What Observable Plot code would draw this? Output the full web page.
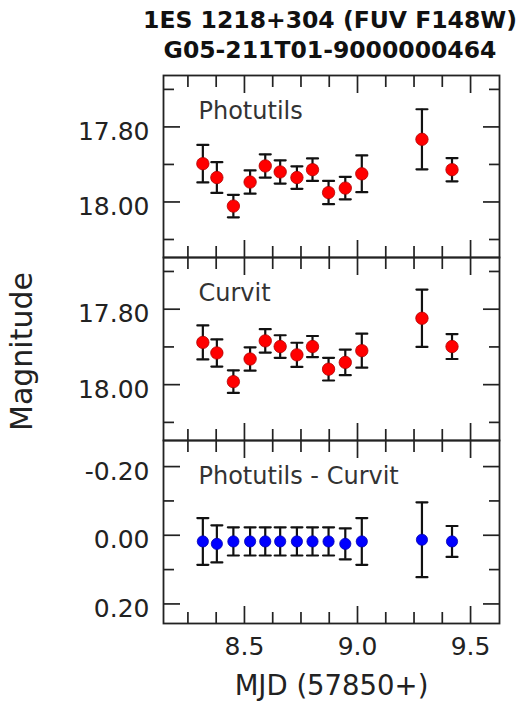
<!DOCTYPE html>
<html><head><meta charset="utf-8">
<script src="https://cdn.jsdelivr.net/npm/d3@7"></script>
<script src="https://cdn.jsdelivr.net/npm/@observablehq/plot@0.6"></script>
<style>
html,body{margin:0;padding:0;background:#fff;overflow:hidden;}
#wrap{position:relative;width:520px;height:702px;font-family:"DejaVu Sans";}
#title{position:absolute;left:80px;top:5px;width:500px;text-align:center;font-family:"DejaVu Sans";font-weight:bold;font-size:23.5px;line-height:30px;color:#111;}
.pane{position:absolute;left:0;}
</style>
</head><body>
<div id="wrap">
  <div id="title">1ES 1218+304 (FUV F148W)<br>G05-211T01-9000000464</div>
</div>
<script>
const mjd = [8.316, 8.378, 8.451, 8.525, 8.592, 8.658, 8.732, 8.801, 8.872, 8.946, 9.019, 9.285, 9.418];
const magPhot = [17.898, 17.935, 18.011, 17.947, 17.904, 17.920, 17.935, 17.914, 17.975, 17.963, 17.925, 17.833, 17.914];
const errPhot = [0.050, 0.041, 0.030, 0.031, 0.031, 0.031, 0.030, 0.030, 0.031, 0.030, 0.049, 0.080, 0.031];
const magCurv = [17.888, 17.916, 17.992, 17.932, 17.884, 17.899, 17.921, 17.899, 17.959, 17.941, 17.910, 17.824, 17.899];
const errCurv = [0.045, 0.036, 0.030, 0.031, 0.031, 0.030, 0.032, 0.028, 0.030, 0.034, 0.045, 0.076, 0.033];
const magDiff = [0.018, 0.025, 0.018, 0.018, 0.018, 0.018, 0.018, 0.018, 0.018, 0.025, 0.018, 0.013, 0.018];
const errDiff = [0.068, 0.054, 0.041, 0.041, 0.041, 0.041, 0.041, 0.041, 0.041, 0.045, 0.068, 0.109, 0.045];

const xDomain = [8.142, 9.628];
const xMajor = [8.5, 9.0, 9.5];
const xMinor = [8.25, 8.375, 8.625, 8.75, 8.875, 9.125, 9.25, 9.375];
const magDomain = [17.663, 18.148];
const magMajor = [17.80, 18.00];
const magMinor = [17.70, 17.90, 18.10];
const diffDomain = [-0.276, 0.257];
const diffMajor = [-0.20, 0.00, 0.20];
const diffMinor = [-0.10, 0.10];
const panelLabels = ["Photutils", "Curvit", "Photutils - Curvit"];
const xLabel = "MJD (57850+)";
const yLabel = "Magnitude";

const capShape = {draw(ctx, l) { ctx.moveTo(-l / 2, 0); ctx.lineTo(l / 2, 0); }};
const ink = "#222";

function panel({mag, err, color, edge, r, yDomain, major, minor, label, top, frameH, bottom, extra = []}) {
  const data = mjd.map((x, i) => ({x, y: mag[i], e: err[i]}));
  const mt = 2, mb = bottom ? 79 : 2;
  const none = () => "";
  const marks = [
    Plot.frame({stroke: ink, strokeWidth: 1.8}),
    Plot.axisY({anchor: "left", ticks: major, tickSize: -17, tickFormat: none, label: null, strokeWidth: 1.7}),
    Plot.axisY({anchor: "left", ticks: minor, tickSize: -11, tickFormat: none, label: null, strokeWidth: 1.7}),
    Plot.axisY({anchor: "right", ticks: major, tickSize: -17, tickFormat: none, label: null, strokeWidth: 1.7}),
    Plot.axisY({anchor: "right", ticks: minor, tickSize: -11, tickFormat: none, label: null, strokeWidth: 1.7}),
    Plot.axisY({anchor: "left", ticks: major, tickSize: 0, tickPadding: 14, tickFormat: d => d.toFixed(2), label: null, dy: 5, fontSize: 25}),
    Plot.axisX({anchor: "bottom", ticks: xMajor, tickSize: -17, tickFormat: none, label: null, strokeWidth: 1.7}),
    Plot.axisX({anchor: "bottom", ticks: xMinor, tickSize: -11, tickFormat: none, label: null, strokeWidth: 1.7}),
    Plot.axisX({anchor: "top", ticks: xMajor, tickSize: -17, tickFormat: none, label: null, strokeWidth: 1.7}),
    Plot.axisX({anchor: "top", ticks: xMinor, tickSize: -11, tickFormat: none, label: null, strokeWidth: 1.7}),
    Plot.ruleX(data, {x: "x", y1: d => d.y - d.e, y2: d => d.y + d.e, stroke: "#111", strokeWidth: 2.2}),
    Plot.vector(data, {x: "x", y: d => d.y - d.e, length: 11, anchor: "start", shape: capShape, stroke: "#111", strokeWidth: 2.2}),
    Plot.vector(data, {x: "x", y: d => d.y + d.e, length: 11, anchor: "start", shape: capShape, stroke: "#111", strokeWidth: 2.2}),
    Plot.dot(data, {x: "x", y: "y", r, fill: color, stroke: edge, strokeWidth: 0.8}),
    Plot.text([label], {text: d => d, frameAnchor: "top-left", textAnchor: "start", lineAnchor: "middle", dx: 35, dy: 36, fontSize: 24, fill: "#333"}),
    ...extra
  ];
  if (bottom) {
    marks.push(Plot.axisX({anchor: "bottom", ticks: xMajor, tickSize: 0, tickPadding: 14, tickFormat: d => d.toFixed(1), label: null, fontSize: 25}));
    marks.push(Plot.text([xLabel], {text: d => d, frameAnchor: "bottom", lineAnchor: "top", dy: 52, fontSize: 27.5, fill: ink}));
  }
  const svg = Plot.plot({
    width: 520,
    height: mt + frameH + mb,
    marginLeft: 163, marginRight: 21, marginTop: mt, marginBottom: mb,
    x: {domain: xDomain},
    y: {domain: yDomain, reverse: true},
    style: {fontFamily: "DejaVu Sans", fontSize: "25px", background: "transparent", overflow: "visible", color: ink},
    marks
  });
  svg.classList.add("pane");
  svg.style.top = (top - mt) + "px";
  document.getElementById("wrap").appendChild(svg);
}

panel({mag: magPhot, err: errPhot, color: "#ff0000", edge: "#b00000", r: 6.2, yDomain: magDomain, major: magMajor, minor: magMinor, label: panelLabels[0], top: 75, frameH: 182});
panel({mag: magCurv, err: errCurv, color: "#ff0000", edge: "#b00000", r: 6.2, yDomain: magDomain, major: magMajor, minor: magMinor, label: panelLabels[1], top: 257, frameH: 183,
  extra: [Plot.text([yLabel], {text: d => d, frameAnchor: "left", rotate: -90, dx: -141, dy: 2.5, textAnchor: "middle", lineAnchor: "middle", fontSize: 30, fill: ink})]});
panel({mag: magDiff, err: errDiff, color: "#0000ff", edge: "#0000b0", r: 5.6, yDomain: diffDomain, major: diffMajor, minor: diffMinor, label: panelLabels[2], top: 440, frameH: 183, bottom: true});
</script>
</body></html>
